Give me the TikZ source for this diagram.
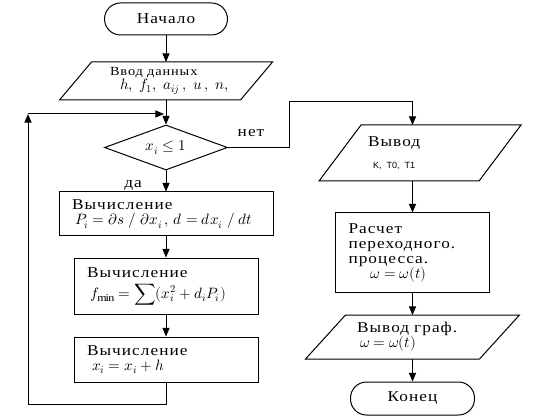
\documentclass[tikz,border=0pt]{standalone}
\usepackage{amsmath}
\usepackage{unicode-math}
\setmathfont{Latin Modern Math}
\setmainfont{Liberation Serif}[FakeStretch=1.15,LetterSpace=7]
\newfontfamily\labsans{Liberation Sans}
\usetikzlibrary{arrows,shapes.geometric}
\newcommand{\fm}[1]{{\fontsize{15}{15}\selectfont$#1$}}
% parallelogram round an undrawn io node: name, half slant
\newcommand{\slantframe}[2]{\draw[line width=1pt] ([xshift=-#2]#1.south west) -- ([xshift=#2]#1.north west) -- ([xshift=#2]#1.north east) -- ([xshift=-#2]#1.south east) -- cycle;}
\tikzset{
	block/.style={draw, rectangle, line width=1pt, align=left, inner xsep=13pt, inner ysep=2pt},
	io/.style={rectangle, align=left, inner sep=2pt, outer sep=0pt},
	term/.style={draw, rectangle, rounded corners=16pt, line width=1pt, minimum width=123pt, minimum height=32pt},
	flow/.style={line width=1pt, -triangle 45},
}

\begin{document}
\begin{tikzpicture}[font=\fontsize{15}{15}\selectfont]
	\useasboundingbox (0,0) rectangle (537pt,-419pt);
	\node[term](BEG) at (166pt,-19pt){Начало};
	\node[io, below of=BEG, node distance=62pt, minimum width=181pt, minimum height=38pt, text width=112pt, font=\fontsize{12.5}{12}\selectfont](IN1){Ввод данных\\ \hspace*{10pt}{\fontsize{15}{12}\selectfont$h,\; f_1,\; a_{ij}\,,\; u\,,\; n,$}};
	\node[draw, diamond, aspect=2.7, inner sep=0pt, minimum width=123pt, minimum height=45pt, line width=1pt, below of=IN1, node distance=66.5pt](COND){\fm{x_i \le 1}};
	
	\node[right of=COND, node distance=85pt, yshift=14pt](NO){нет};
	\node[below of=COND, node distance=38pt, xshift=-33pt](YES){да};
	
	\node[block, below of=COND, node distance=66.5pt, minimum width=214pt, minimum height=44pt, text width=188pt](CALC1){Вычисление\\ \hspace*{3pt}\mbox{\fm{P_i = \partial s\;/\;\partial x_i\,,\, d = dx_i\;/\;dt}}};
	\node[block, below of=CALC1, node distance=72pt, minimum width=184pt, minimum height=56pt, text width=158pt](CALC2){Вычисление\\[6pt] \hspace*{3pt}\fm{f_{\min} = \displaystyle\sum (x_i^2 + d_i P_i)}};
	\node[block, below of=CALC2, node distance=73.5pt, minimum width=184pt, minimum height=45pt, text width=158pt](CALC3){Вычисление\\ \hspace*{5pt}\fm{x_i = x_i + h}};
	
	\node[io, right of=COND, node distance=254pt, yshift=-5.5pt, minimum width=160pt, minimum height=56pt, text width=104pt](OUT1){Вывод\\[7pt] \hspace*{5pt}{\labsans\fontsize{9}{9}\selectfont K, T0, T1}};
	\node[block, below of=OUT1, node distance=99.5pt, xshift=-7.5pt, minimum width=154pt, minimum height=79pt, text width=128pt](CALC4){Расчет\\ переходного.\\ процесса.\\ \hspace*{22pt}\fm{\omega = \omega(t)}};
	\node[io, below of=CALC4, node distance=84.5pt, minimum width=174pt, minimum height=44pt, text width=111pt](OUT2){Вывод граф.\\ \hspace*{3pt}\fm{\omega = \omega(t)}};
	\node[term, below of=OUT2, node distance=61.5pt, minimum width=124pt, minimum height=33pt](FIN){Конец};
	
	\slantframe{IN1}{16pt}
	\slantframe{OUT1}{21pt}
	\slantframe{OUT2}{20pt}
	
	\coordinate[below of=IN1, node distance=33pt](JOIN);
	\coordinate[left of=JOIN, node distance=138pt](LOOP);
	\coordinate[below of=CALC3, node distance=44.5pt](BOT);
	\coordinate[right of=JOIN, node distance=123pt, yshift=12pt](TURN);
	
	\draw[flow] (BEG) -- (IN1);
	\draw[flow] (IN1) -- (COND);
	\draw[flow] (COND) -- (CALC1);
	\draw[flow] (CALC1) -- (CALC2);
	\draw[flow] (CALC2) -- (CALC3);
	\draw[flow] (CALC3.south) -- (BOT) -| (LOOP);
	\draw[flow, shorten >=2pt] (LOOP) -- (JOIN);
	
	\draw[flow] (COND.east) -| (TURN) -| (OUT1.north -| CALC4.north);
	\draw[flow] (OUT1.south -| CALC4.north) -- (CALC4.north);
	\draw[flow] (CALC4) -- (OUT2);
	\draw[flow] (OUT2) -- (FIN);
\end{tikzpicture}
\end{document}
